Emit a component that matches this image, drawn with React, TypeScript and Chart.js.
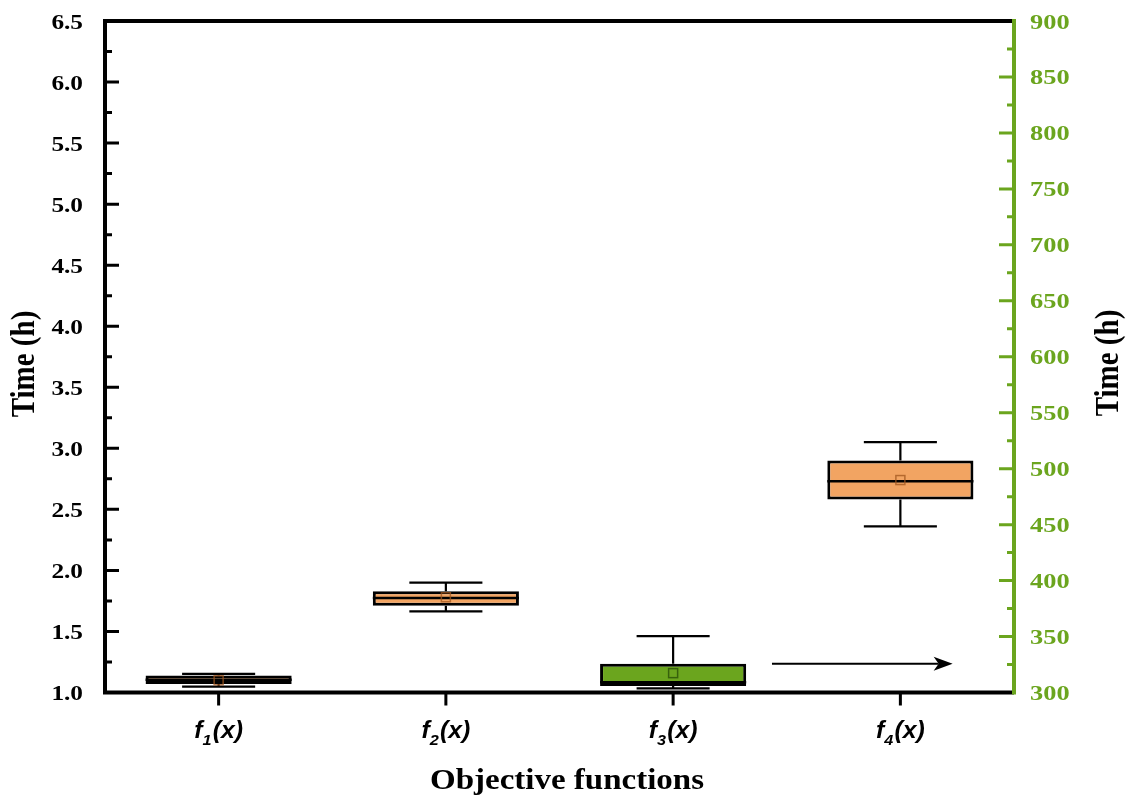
import { useEffect, useRef } from 'react';
import { Chart, registerables } from 'chart.js';

Chart.register(...registerables);

// ---------- data ----------
const categories = ['f1(x)', 'f2(x)', 'f3(x)', 'f4(x)'];
const axisOf = ['y', 'y', 'y1', 'y'];
const whiskerLow = [1.048, 1.664, 303.6, 2.36];
const q1 = [1.07, 1.71, 305.8, 2.58];
const median = [1.105, 1.773, 309.2, 2.73];
const q3 = [1.14, 1.83, 325.7, 2.9];
const whiskerHigh = [1.152, 1.9, 350.3, 3.05];
const means = [1.1, 1.78, 317.3, 2.74];

const leftMin = 1.0;
const leftMax = 6.5;
const leftStep = 0.5;
const rightMin = 300;
const rightMax = 900;
const rightStep = 50;

const leftTitle = 'Time (h)';
const rightTitle = 'Time (h)';
const xTitle = 'Objective functions';

// ---------- styles ----------
const ORANGE = '#F2A462';
const GREEN = '#6BA51E';
const SERIF = '"Liberation Serif", "Times New Roman", serif';
const SANS = '"Liberation Sans", Arial, sans-serif';

function stretchedText(ctx: CanvasRenderingContext2D, text: string, x: number, y: number, sx: number, align: CanvasTextAlign) {
  ctx.save();
  ctx.translate(x, y);
  ctx.scale(sx, 1);
  ctx.textAlign = align;
  ctx.textBaseline = 'alphabetic';
  ctx.fillText(text, 0, 0);
  ctx.restore();
}

const boxPlugin = {
  id: 'boxExtras',
  afterDatasetsDraw(chart: any) {
    const ctx: CanvasRenderingContext2D = chart.ctx;
    ctx.save();
    categories.forEach((_, i) => {
      const ys = chart.scales[axisOf[i]];
      const dsIndex = axisOf[i] === 'y' ? 0 : 1;
      const bar = chart.getDatasetMeta(dsIndex).data[i];
      const { x: cx, width: bw } = bar.getProps(['x', 'width'], true);
      const pLow = ys.getPixelForValue(whiskerLow[i]);
      const pQ1 = ys.getPixelForValue(q1[i]);
      const pMed = ys.getPixelForValue(median[i]);
      const pQ3 = ys.getPixelForValue(q3[i]);
      const pHigh = ys.getPixelForValue(whiskerHigh[i]);
      const pMean = ys.getPixelForValue(means[i]);
      const cap = bw / 4;

      ctx.strokeStyle = '#000';
      ctx.lineWidth = 2.2;
      ctx.beginPath();
      ctx.moveTo(cx, pQ3);
      ctx.lineTo(cx, pHigh);
      ctx.moveTo(cx - cap, pHigh);
      ctx.lineTo(cx + cap, pHigh);
      ctx.moveTo(cx, pQ1);
      ctx.lineTo(cx, pLow);
      ctx.moveTo(cx - cap, pLow);
      ctx.lineTo(cx + cap, pLow);
      ctx.stroke();

      ctx.lineWidth = 2.5;
      ctx.beginPath();
      ctx.moveTo(cx - bw / 2, pMed);
      ctx.lineTo(cx + bw / 2, pMed);
      ctx.stroke();

      ctx.lineWidth = 1.5;
      ctx.strokeStyle = dsIndex === 0 ? 'rgba(160,85,30,0.75)' : 'rgba(50,90,10,0.9)';
      ctx.strokeRect(cx - 4.5, pMean - 4.5, 9, 9);
    });

    // arrow from f3 pointing to the right axis
    const xs = chart.scales.x;
    const step = xs.getPixelForValue(3) - xs.getPixelForValue(2);
    const ax0 = xs.getPixelForValue(2) + 0.435 * step;
    const ax1 = xs.getPixelForValue(2) + 1.23 * step;
    const ay = chart.scales.y1.getPixelForValue(q3[2]);
    ctx.strokeStyle = '#000';
    ctx.fillStyle = '#000';
    ctx.lineWidth = 2;
    ctx.beginPath();
    ctx.moveTo(ax0, ay);
    ctx.lineTo(ax1 - 14, ay);
    ctx.stroke();
    ctx.beginPath();
    ctx.moveTo(ax1, ay);
    ctx.lineTo(ax1 - 19, ay - 7);
    ctx.lineTo(ax1 - 14, ay);
    ctx.lineTo(ax1 - 19, ay + 7);
    ctx.closePath();
    ctx.fill();
    ctx.restore();
  },
  afterDraw(chart: any) {
    const ctx: CanvasRenderingContext2D = chart.ctx;
    const { left, right, top, bottom } = chart.chartArea;
    const yl = chart.scales.y;
    const yr = chart.scales.y1;
    const xs = chart.scales.x;
    ctx.save();
    ctx.lineCap = 'butt';

    // ticks left
    ctx.strokeStyle = '#000';
    ctx.lineWidth = 3;
    ctx.beginPath();
    for (let v = leftMin; v <= leftMax + 1e-9; v += leftStep / 2) {
      const py = yl.getPixelForValue(v);
      const major = Math.abs((v - leftMin) / leftStep - Math.round((v - leftMin) / leftStep)) < 1e-6;
      ctx.moveTo(left, py);
      ctx.lineTo(left + (major ? 14 : 7), py);
    }
    ctx.stroke();

    // ticks x
    ctx.beginPath();
    categories.forEach((_, i) => {
      const px = xs.getPixelForValue(i);
      ctx.moveTo(px, bottom);
      ctx.lineTo(px, bottom + 13);
    });
    ctx.stroke();

    // ticks right
    ctx.strokeStyle = GREEN;
    ctx.beginPath();
    for (let v = rightMin; v <= rightMax + 1e-9; v += rightStep / 2) {
      const py = yr.getPixelForValue(v);
      const major = Math.abs((v - rightMin) % rightStep) < 1e-6;
      ctx.moveTo(right, py);
      ctx.lineTo(right - (major ? 15 : 7), py);
    }
    ctx.stroke();

    // axis lines
    ctx.lineWidth = 4;
    ctx.strokeStyle = '#000';
    ctx.beginPath();
    ctx.moveTo(left, top);
    ctx.lineTo(right, top);
    ctx.moveTo(left, top - 2);
    ctx.lineTo(left, bottom + 2);
    ctx.moveTo(left - 2, bottom);
    ctx.lineTo(right, bottom);
    ctx.stroke();
    ctx.strokeStyle = GREEN;
    ctx.beginPath();
    ctx.moveTo(right, top - 2);
    ctx.lineTo(right, bottom + 2);
    ctx.stroke();

    // tick labels
    ctx.font = `bold 22px ${SERIF}`;
    ctx.fillStyle = '#000';
    for (let v = leftMin; v <= leftMax + 1e-9; v += leftStep) {
      const py = yl.getPixelForValue(v);
      stretchedText(ctx, v.toFixed(1), left - 22, py + 7.5, 1.15, 'right');
    }
    ctx.fillStyle = GREEN;
    for (let v = rightMin; v <= rightMax + 1e-9; v += rightStep) {
      const py = yr.getPixelForValue(v);
      stretchedText(ctx, String(v), right + 16, py + 7.5, 1.2, 'left');
    }

    // x labels f_n(x)
    ctx.fillStyle = '#000';
    categories.forEach((label, i) => {
      const px = xs.getPixelForValue(i);
      const head = label.charAt(0);
      const sub = label.charAt(1);
      const rest = label.slice(2);
      const mainFont = `italic bold 23px ${SANS}`;
      const subFont = `italic bold 15px ${SANS}`;
      ctx.font = mainFont;
      const wHead = ctx.measureText(head).width;
      const wRest = ctx.measureText(rest).width;
      ctx.font = subFont;
      const wSub = ctx.measureText(sub).width + 1;
      const sx = 1.08;
      const total = (wHead + wSub + wRest) * sx;
      ctx.save();
      ctx.translate(px - total / 2, 738);
      ctx.scale(sx, 1);
      ctx.textAlign = 'left';
      ctx.textBaseline = 'alphabetic';
      ctx.font = mainFont;
      ctx.fillText(head, 0, 0);
      ctx.font = subFont;
      ctx.fillText(sub, wHead, 7);
      ctx.font = mainFont;
      ctx.fillText(rest, wHead + wSub, 0);
      ctx.restore();
    });

    // axis titles
    ctx.font = `bold 30px ${SERIF}`;
    ctx.fillStyle = '#000';
    stretchedText(ctx, xTitle, 567, 789, 1.1, 'center');

    const drawVertical = (text: string, cx: number, cy: number) => {
      ctx.save();
      ctx.translate(cx, cy);
      ctx.rotate(-Math.PI / 2);
      ctx.scale(1, 1.15);
      ctx.textAlign = 'center';
      ctx.textBaseline = 'middle';
      ctx.fillText(text, 0, 0);
      ctx.restore();
    };
    ctx.font = `bold 29px ${SERIF}`;
    drawVertical(leftTitle, 25, 364);
    drawVertical(rightTitle, 1109, 363);
    ctx.restore();
  },
};

export default function App() {
  const ref = useRef<HTMLCanvasElement | null>(null);
  useEffect(() => {
    if (!ref.current) return;
    const leftData = categories.map((_, i) => (axisOf[i] === 'y' ? [q1[i], q3[i]] : null));
    const rightData = categories.map((_, i) => (axisOf[i] === 'y1' ? [q1[i], q3[i]] : null));
    const chart = new Chart(ref.current, {
      type: 'bar',
      data: {
        labels: categories,
        datasets: [
          {
            label: 'left',
            data: leftData as any,
            yAxisID: 'y',
            backgroundColor: ORANGE,
            borderColor: '#000',
            borderWidth: 3,
            borderSkipped: false,
            grouped: false,
            barPercentage: 0.643,
            categoryPercentage: 1,
          },
          {
            label: 'right',
            data: rightData as any,
            yAxisID: 'y1',
            backgroundColor: GREEN,
            borderColor: '#000',
            borderWidth: 3,
            borderSkipped: false,
            grouped: false,
            barPercentage: 0.643,
            categoryPercentage: 1,
          },
        ],
      },
      options: {
        responsive: false,
        animation: false,
        layout: { padding: { top: 21, left: 0, right: 0, bottom: 0 } },
        plugins: { legend: { display: false }, tooltip: { enabled: false }, title: { display: false } },
        scales: {
          x: {
            type: 'category',
            grid: { display: false },
            border: { display: false },
            ticks: { display: false },
            afterFit: (s: any) => { s.height = 106.5; },
          },
          y: {
            position: 'left',
            min: leftMin,
            max: leftMax,
            ticks: { display: false, stepSize: leftStep },
            grid: { display: false },
            border: { display: false },
            afterFit: (s: any) => { s.width = 105; },
          },
          y1: {
            position: 'right',
            min: rightMin,
            max: rightMax,
            ticks: { display: false, stepSize: rightStep },
            grid: { display: false },
            border: { display: false },
            afterFit: (s: any) => { s.width = 116; },
          },
        },
      },
      plugins: [boxPlugin],
    });
    return () => chart.destroy();
  }, []);
  return (
    <div style={{ position: 'absolute', left: 0, top: 0, width: 1130, height: 799, background: '#fff' }}>
      <canvas ref={ref} width={1130} height={799} style={{ display: 'block', width: 1130, height: 799 }} />
    </div>
  );
}
